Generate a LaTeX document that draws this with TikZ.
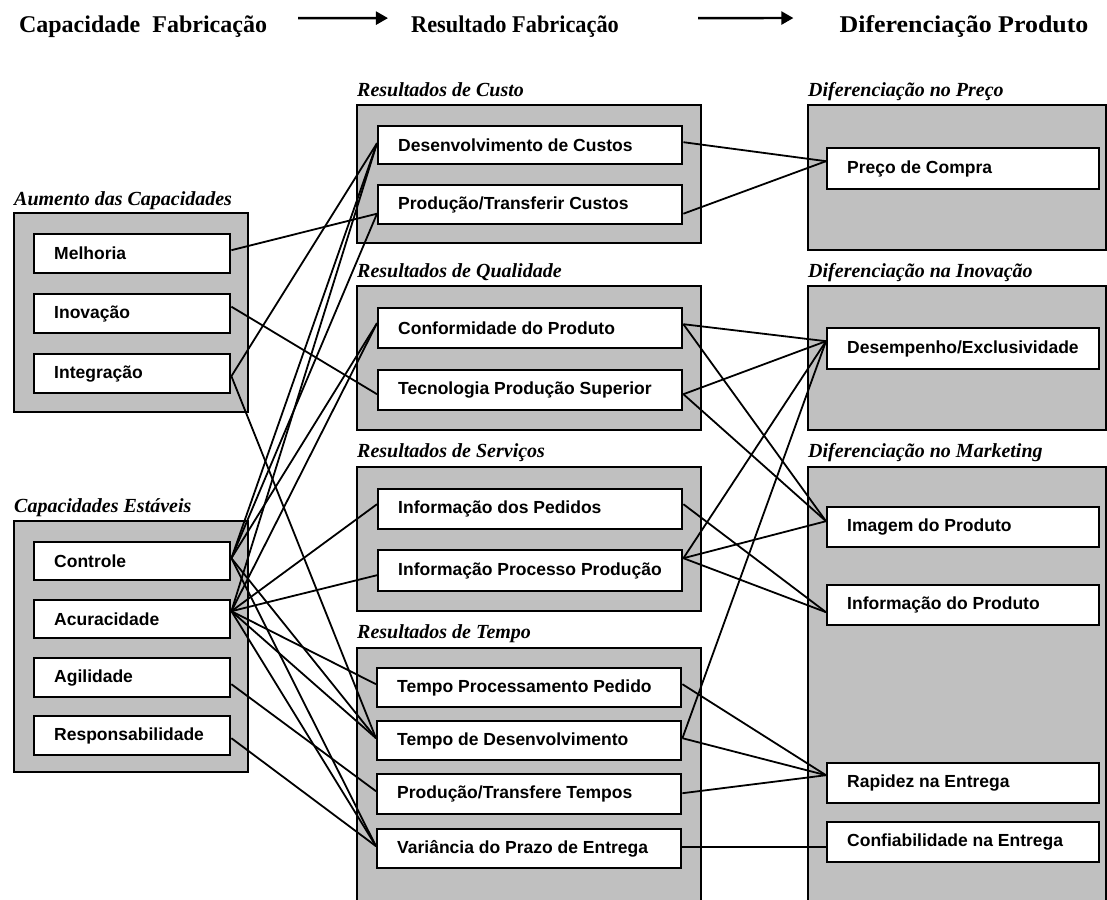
\documentclass[tikz,border=0pt]{standalone}
\usepackage{fontspec}
\setmainfont{Liberation Serif}
\setsansfont{Liberation Sans}
\usetikzlibrary{arrows.meta}
\definecolor{grayfill}{HTML}{C0C0C0}
\newcommand\mybox[5]{\node[itembox, minimum height=#4] (#1) at (#2) {\makebox[#3][l]{\hspace{20pt}#5}};}
\begin{document}
\begin{tikzpicture}[x=1pt,y=-1pt,
  group/.style={draw=black, line width=1.8pt, fill=grayfill},
  itembox/.style={draw=black, line width=2.4pt, fill=white, anchor=north west,
    font=\sffamily\bfseries\fontsize{17.5}{20}\selectfont, inner xsep=0pt, inner ysep=0pt},
  grouplabel/.style={font=\rmfamily\bfseries\itshape\fontsize{20}{24}\selectfont, anchor=base west, inner sep=0pt},
  header/.style={font=\rmfamily\bfseries\fontsize{24}{28}\selectfont, anchor=base, inner sep=0pt},
  headarrow/.style={line width=2.4pt, -{Triangle[length=12pt,width=13pt]}},
  link/.style={line width=1.8pt}]
\useasboundingbox[fill=white] (0,0) rectangle (1107,899);

% header
\node[header] (h1) at (143,33) {Capacidade\ \ Fabricação};
\node[header, xscale=0.93] (h2) at (515,33) {Resultado Fabricação};
\node[header, xscale=1.08] (h3) at (964,33) {Diferenciação Produto};
\coordinate (a1s) at ([yshift=9pt,xshift=31pt]h1.east);
\coordinate (a1e) at ([yshift=9pt,xshift=-23pt]h2.west);
\coordinate (a2s) at ([yshift=9pt,xshift=79pt]h2.east);
\coordinate (a2e) at ([yshift=9pt,xshift=-46pt]h3.west);
\draw[headarrow] (a1s) -- (a1e);
\draw[headarrow] (a2s) -- (a2e);

% groups
\draw[group] (14,213) rectangle (248,412);
\draw[group] (14,521) rectangle (248,772);
\draw[group] (357,105) rectangle (701,243);
\draw[group] (357,286) rectangle (701,430);
\draw[group] (357,467) rectangle (701,611);
\draw[group] (357,648) rectangle (701,915);
\draw[group] (808,105) rectangle (1106,250);
\draw[group] (808,286) rectangle (1106,430);
\draw[group] (808,467) rectangle (1106,915);

\node[grouplabel] (gl1) at (14,205) {Aumento das Capacidades};
\node[grouplabel] (gl2) at (14,512) {Capacidades Estáveis};
\node[grouplabel] (gm1) at (357,96) {Resultados de Custo};
\node[grouplabel] (gm2) at (357,277) {Resultados de Qualidade};
\node[grouplabel] (gm3) at (357,457) {Resultados de Serviços};
\node[grouplabel] (gm4) at (357,638) {Resultados de Tempo};
\node[grouplabel] (gr1) at (808,96) {Diferenciação no Preço};
\node[grouplabel] (gr2) at (808,277) {Diferenciação na Inovação};
\node[grouplabel] (gr3) at (808,457) {Diferenciação no Marketing};

% left items
\mybox{mel}{33,233}{196pt}{39pt}{Melhoria}
\mybox{ino}{33,293}{196pt}{39pt}{Inovação}
\mybox{int}{33,353}{196pt}{39pt}{Integração}
\mybox{con}{33,541}{196pt}{38pt}{Controle}
\mybox{acu}{33,599}{196pt}{38pt}{Acuracidade}
\mybox{agi}{33,657}{196pt}{39pt}{Agilidade}
\mybox{res}{33,715}{196pt}{39pt}{Responsabilidade}

% middle items
\mybox{des}{377,125}{304pt}{38pt}{Desenvolvimento de Custos}
\mybox{ptc}{377,184}{304pt}{39pt}{Produção/Transferir Custos}
\mybox{cfp}{377,307}{304pt}{40pt}{Conformidade do Produto}
\mybox{tps}{377,369}{304pt}{40pt}{Tecnologia Produção Superior}
\mybox{ipe}{377,488}{304pt}{40pt}{Informação dos Pedidos}
\mybox{ipp}{377,549}{304pt}{41pt}{Informação Processo Produção}
\mybox{tpp}{376,667}{304pt}{39pt}{Tempo Processamento Pedido}
\mybox{tde}{376,720}{304pt}{39pt}{Tempo de Desenvolvimento}
\mybox{ptt}{376,773}{304pt}{40pt}{Produção/Transfere Tempos}
\mybox{vpe}{376,828}{304pt}{39pt}{Variância do Prazo de Entrega}

% right items
\mybox{pc}{826,147}{272pt}{41pt}{Preço de Compra}
\mybox{de}{826,327}{272pt}{41pt}{Desempenho/Exclusividade}
\mybox{im}{826,506}{272pt}{40pt}{Imagem do Produto}
\mybox{ip}{826,584}{272pt}{40pt}{Informação do Produto}
\mybox{re}{826,762}{272pt}{40pt}{Rapidez na Entrega}
\mybox{ce}{826,821}{272pt}{40pt}{Confiabilidade na Entrega}

% ports
\coordinate (melE) at ([yshift=3.5pt]mel.east);
\coordinate (inoE) at ([yshift=7pt]ino.east);
\coordinate (intE) at ([yshift=-2.5pt]int.east);
\coordinate (conE) at ([yshift=3pt]con.east);
\coordinate (acuE) at ([yshift=8pt]acu.east);
\coordinate (agiE) at ([yshift=-6.5pt]agi.east);
\coordinate (resE) at ([yshift=-2.5pt]res.east);

\coordinate (desW) at ([yshift=2pt]des.west);
\coordinate (ptcW) at ([yshift=-9pt]ptc.west);
\coordinate (cfpW) at ([yshift=5pt]cfp.west);
\coordinate (tpsW) at ([yshift=-4pt]tps.west);
\coordinate (ipeW) at ([yshift=5pt]ipe.west);
\coordinate (ippW) at ([yshift=-4.5pt]ipp.west);
\coordinate (tppW) at ([yshift=3.5pt]tpp.west);
\coordinate (tdeW) at ([yshift=2.5pt]tde.west);
\coordinate (pttW) at ([yshift=3pt]ptt.west);
\coordinate (vpeW) at ([yshift=2.5pt]vpe.west);

\coordinate (desE) at ([yshift=3pt]des.east);
\coordinate (ptcE) at ([yshift=-9pt]ptc.east);
\coordinate (cfpE) at ([yshift=4pt]cfp.east);
\coordinate (tpsE) at ([yshift=-4pt]tps.east);
\coordinate (ipeE) at ([yshift=5pt]ipe.east);
\coordinate (ippE) at ([yshift=12.5pt]ipp.east);
\coordinate (tppE) at ([yshift=3.5pt]tpp.east);
\coordinate (tdeE) at ([yshift=2.5pt]tde.east);
\coordinate (pttE) at ([yshift=1pt]ptt.east);
\coordinate (vpeE) at ([yshift=1.5pt]vpe.east);

\coordinate (pcW) at ([yshift=7.5pt]pc.west);
\coordinate (deW) at ([yshift=7.5pt]de.west);
\coordinate (imW) at ([yshift=6pt]im.west);
\coordinate (ipW) at ([yshift=-7pt]ip.west);
\coordinate (reW) at ([yshift=8pt]re.west);
\coordinate (ceW) at ([yshift=-5pt]ce.west);

% left -> middle
\draw[link] (melE) -- (ptcW);
\draw[link] (inoE) -- (tpsW);
\draw[link] (intE) -- (desW);
\draw[link] (intE) -- (tdeW);
\draw[link] (conE) -- (desW);
\draw[link] (conE) -- (ptcW);
\draw[link] (conE) -- (cfpW);
\draw[link] (conE) -- (tdeW);
\draw[link] (conE) -- (vpeW);
\draw[link] (acuE) -- (desW);
\draw[link] (acuE) -- (cfpW);
\draw[link] (acuE) -- (ipeW);
\draw[link] (acuE) -- (ippW);
\draw[link] (acuE) -- (tppW);
\draw[link] (acuE) -- (tdeW);
\draw[link] (acuE) -- (vpeW);
\draw[link] (agiE) -- (pttW);
\draw[link] (resE) -- (vpeW);

% middle -> right
\draw[link] (desE) -- (pcW);
\draw[link] (ptcE) -- (pcW);
\draw[link] (cfpE) -- (deW);
\draw[link] (cfpE) -- (imW);
\draw[link] (tpsE) -- (deW);
\draw[link] (tpsE) -- (imW);
\draw[link] (ipeE) -- (ipW);
\draw[link] (ippE) -- (deW);
\draw[link] (ippE) -- (imW);
\draw[link] (ippE) -- (ipW);
\draw[link] (tppE) -- (reW);
\draw[link] (tdeE) -- (deW);
\draw[link] (tdeE) -- (reW);
\draw[link] (pttE) -- (reW);
\draw[link] (vpeE) -- (ceW);
\end{tikzpicture}
\end{document}
